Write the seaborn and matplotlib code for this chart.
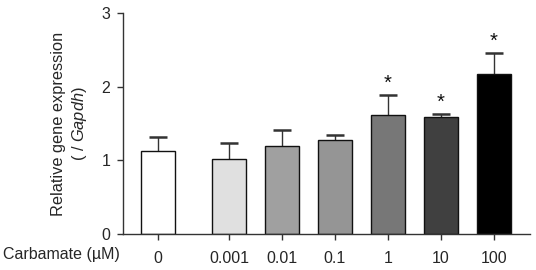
import matplotlib
matplotlib.use("Agg")
import matplotlib.pyplot as plt
import seaborn as sns
import numpy as np
import pandas as pd

# ---- data ----
doses = ["0", "0.001", "0.01", "0.1", "1", "10", "100"]
means = [1.12, 1.02, 1.20, 1.275, 1.61, 1.59, 2.175]
sems = [0.20, 0.22, 0.21, 0.075, 0.28, 0.04, 0.285]
significant = [False, False, False, False, True, True, True]
bar_colors = ["#ffffff", "#e0e0e0", "#a0a0a0", "#959595", "#777777", "#404040", "#000000"]

# layout positions (extra gap after control bar)
positions = [0.0, 1.34, 2.34, 3.34, 4.34, 5.34, 6.34]

sns.set_theme(style="ticks")
plt.rcParams["font.family"] = ["Liberation Sans", "DejaVu Sans"]
plt.rcParams["mathtext.fontset"] = "custom"
plt.rcParams["mathtext.rm"] = "Liberation Sans"
plt.rcParams["mathtext.it"] = "Liberation Sans:italic"

df = pd.DataFrame({"pos": positions, "mean": means, "dose": doses})

fig = plt.figure(figsize=(5.36, 2.70), dpi=100)
ax = fig.add_axes([123 / 536, 1 - 234 / 270, (530 - 123) / 536, (234 - 13) / 270])

sns.barplot(data=df, x="pos", y="mean", hue="dose", hue_order=doses,
            palette=bar_colors, native_scale=True, dodge=False, legend=False,
            width=0.64, errorbar=None, edgecolor="#111111", linewidth=1.0, ax=ax)
for p in ax.patches:
    p.set_zorder(2)

# symmetric error bars drawn behind opaque bars -> only upper half visible
ax.errorbar(positions, means, yerr=sems, fmt="none",
            ecolor="#333333", elinewidth=1.0, capsize=6.5, capthick=1.8, zorder=1)

for x, m, s, sig in zip(positions, means, sems, significant):
    if sig:
        ax.annotate("*", xy=(x, m + s), xytext=(0, 1.5), textcoords="offset points",
                    ha="center", va="bottom", fontsize=14.5, color="#111111")

ax.set_xlim(-0.66, 7.02)
ax.set_ylim(0, 3)
ax.set_yticks([0, 1, 2, 3])
ax.set_xticks(positions)
ax.set_xticklabels(doses)
ax.tick_params(axis="both", labelsize=11.5, length=4, width=1, color="#333333")
ax.tick_params(axis="y", pad=5)
ax.tick_params(axis="x", pad=8)
for sp in ["top", "right"]:
    ax.spines[sp].set_visible(False)
for sp in ["left", "bottom"]:
    ax.spines[sp].set_linewidth(1.0)
    ax.spines[sp].set_color("#333333")

ax.set_xlabel("")
ax.set_ylabel("Relative gene expression\n( / $\\it{Gapdh}$)", fontsize=11.8,
              linespacing=1.3, labelpad=9)

fig.text(3 / 536, 1 - 255 / 270, "Carbamate (µM)", ha="left", va="center", fontsize=11.5)

fig.savefig("out.png", dpi=100)
